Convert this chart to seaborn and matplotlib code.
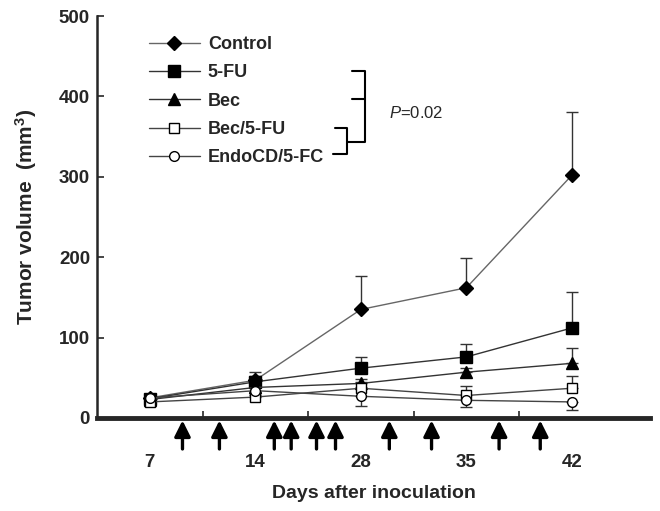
import numpy as np
import pandas as pd
import seaborn as sns
import matplotlib.pyplot as plt

# data
days = ["7", "14", "28", "35", "42"]
groups = ["Control", "5-FU", "Bec", "Bec/5-FU", "EndoCD/5-FC"]
control = [25, 47, 135, 162, 302]
control_err = [0, 10, 41, 37, 78]
fu = [24, 45, 62, 76, 112]
fu_err = [0, 7, 14, 16, 45]
bec = [23, 38, 43, 57, 68]
bec_err = [0, 3, 5, 5, 19]
becfu = [20, 26, 37, 28, 37]
becfu_err = [0, 3, 8, 12, 15]
endo = [25, 34, 27, 22, 20]
endo_err = [0, 3, 12, 8, 10]   # drawn downward
# treatment arrows, positions on the day axis
arrow_pos = [0.31, 0.66, 1.18, 1.34, 1.58, 1.76, 2.27, 2.67, 3.31, 3.70]

sns.set_style("ticks")
plt.rcParams['font.family'] = ['Liberation Sans', 'DejaVu Sans']
plt.rcParams['mathtext.fontset'] = 'custom'
plt.rcParams['mathtext.it'] = 'Liberation Sans:italic'
plt.rcParams['mathtext.rm'] = 'Liberation Sans'
plt.rcParams['mathtext.bf'] = 'Liberation Sans:bold'

fig = plt.figure(figsize=(6.6, 5.11), dpi=100)
ax = fig.add_axes([97 / 660, 1 - 418 / 511, 553 / 660, 402 / 511])

x = np.arange(len(days))
series = [
    (control, control_err, "D", "black", "#666666", 7, 1),
    (fu, fu_err, "s", "black", "#333333", 9, 1),
    (bec, bec_err, "^", "black", "#333333", 9, 1),
    (becfu, becfu_err, "s", "white", "#444444", 7, 1),
    (endo, endo_err, "o", "white", "#444444", 7, -1),
]

for name, (vals, err, mk, fc, lc, ms, sign) in zip(groups, series):
    vals = np.array(vals)
    err = np.array(err)
    if sign > 0:
        yerr = [np.zeros_like(err), err]
    else:
        yerr = [err, np.zeros_like(err)]
    ax.errorbar(x, vals, yerr=yerr, fmt="none", ecolor="#333333",
                elinewidth=1, capsize=4.5, capthick=1, zorder=2)
    sns.lineplot(x=x, y=vals, ax=ax, color=lc, lw=1, marker=mk,
                 markersize=ms, markerfacecolor=fc, markeredgecolor="black",
                 markeredgewidth=1, label=name, zorder=3)

ax.set_xlim(-0.5, 4.74)
ax.set_ylim(0, 500)
ax.set_yticks(range(0, 501, 100))
ax.set_xticks(x)
ax.set_xticklabels(days)
ax.set_xticks([0.5, 1.5, 2.5, 3.5], minor=True)
ax.tick_params(axis="x", which="major", length=0, pad=26)
ax.tick_params(axis="x", which="minor", direction="in", length=5, width=1.2)
ax.tick_params(axis="y", direction="in", length=5, width=1.2, pad=5)
for lab in ax.get_xticklabels() + ax.get_yticklabels():
    lab.set_fontweight("bold")
    lab.set_fontsize(13.5)

sns.despine(ax=ax)
ax.spines["left"].set_linewidth(1.8)
ax.spines["bottom"].set_linewidth(3.5)

ax.set_xlabel("Days after inoculation", fontsize=14, fontweight="bold", labelpad=10)
ax.set_ylabel("Tumor volume  (mm$^\\mathbf{3}$)", fontsize=15, fontweight="bold", labelpad=14)

# treatment arrows below the axis
tr = ax.get_xaxis_transform()
for p in arrow_pos:
    ax.annotate("", xy=(p, -0.006), xytext=(p, -0.077), xycoords=tr,
                textcoords=tr, annotation_clip=False,
                arrowprops=dict(arrowstyle="-|>", lw=2.4, color="black",
                                mutation_scale=24, shrinkA=0, shrinkB=0))

leg = ax.legend(loc="upper left", bbox_to_anchor=(0.065, 0.99), frameon=False,
                handlelength=2.8, handletextpad=0.45, labelspacing=0.62,
                prop={"weight": "bold", "size": 13})

# significance brackets (axes fraction)
def ax_pt(px, py):
    return (px - 97) / 553, (418 - py) / 402

def bracket(points):
    xs, ys = zip(*[ax_pt(a, b) for a, b in points])
    ax.plot(xs, ys, color="black", lw=1.5, transform=ax.transAxes, clip_on=False)

bracket([(352, 71), (365, 71), (365, 142), (347, 142)])
bracket([(352, 99), (365, 99)])
bracket([(335, 128), (347, 128), (347, 154), (333, 154)])
px, py = ax_pt(389, 113)
ax.text(px, py, "$P$=0.02", transform=ax.transAxes, fontsize=12,
        va="center", ha="left")

fig.savefig("out.png", dpi=100)
